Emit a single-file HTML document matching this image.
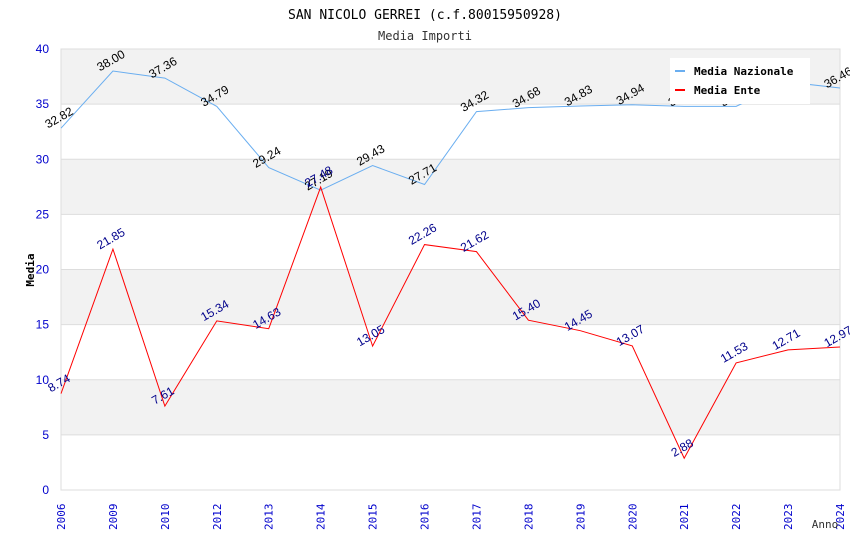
<!DOCTYPE html>
<html><head><meta charset="utf-8"><style>
body{margin:0;background:#fff;}
svg{display:block;font-family:"DejaVu Sans Mono","Liberation Mono",monospace;}
</style></head><body>
<svg id="chart" width="850" height="550">
<text x="425" y="19" text-anchor="middle" font-size="13" fill="#000">SAN NICOLO GERREI (c.f.80015950928)</text>
<text x="425" y="40" text-anchor="middle" font-size="12" fill="#333">Media Importi</text>
<g id="grid"></g><g id="axes"></g><g id="series"></g>
<text transform="translate(34,270) rotate(-90)" text-anchor="middle" font-size="11" font-weight="bold" fill="#000">Media</text>
<text x="825" y="528" text-anchor="middle" font-size="11" fill="#333">Anno</text>
<g>
<rect x="670" y="58" width="140" height="46" fill="#fff"/>
<g><rect x="675" y="70" width="10" height="2" fill="#6aaef0"/><text x="694" y="75" font-size="11" font-weight="bold">Media Nazionale</text></g>
<g><rect x="675" y="89" width="10" height="2" fill="#f00"/><text x="694" y="94" font-size="11" font-weight="bold">Media Ente</text></g>
</g>
</svg>
<script>
const categories=["2006","2009","2010","2012","2013","2014","2015","2016","2017","2018","2019","2020","2021","2022","2023","2024"];
const nazionale=[32.82,38.00,37.36,34.79,29.24,27.19,29.43,27.71,34.32,34.68,34.83,34.94,34.80,34.80,37.00,36.46];
const ente=[8.74,21.85,7.61,15.34,14.63,27.48,13.05,22.26,21.62,15.40,14.45,13.07,2.88,11.53,12.71,12.97];
const yTicks=[0,5,10,15,20,25,30,35,40];
const NS="http://www.w3.org/2000/svg";
const L=61,R=840,T=49,B=490;
const x=i=>L+i*(R-L)/(categories.length-1);
const y=v=>B-v*(B-T)/40;
function mk(tag,attrs,parent,txt){const e=document.createElementNS(NS,tag);for(const k in attrs)e.setAttribute(k,attrs[k]);if(txt!==undefined)e.textContent=txt;parent.appendChild(e);return e;}
const grid=document.getElementById('grid'),axes=document.getElementById('axes'),ser=document.getElementById('series');
for(let i=0;i<yTicks.length-1;i++){
 if(i%2===1){const r=mk('rect',{x:L,y:y(yTicks[i+1]),width:R-L,height:y(yTicks[i])-y(yTicks[i+1]),fill:'#f2f2f2'},grid);
 
 }
}
yTicks.forEach(t=>{
 const l=mk('line',{x1:L,x2:R,y1:y(t),y2:y(t),stroke:'#ddd'},grid);
 
 
 const tx=mk('text',{x:L-12,y:y(t)+4,'text-anchor':'end','font-size':12,fill:'#00c','font-family':'Liberation Sans, sans-serif'},axes,String(t));
 
 
});
mk('rect',{x:L,y:T,width:R-L,height:B-T,fill:'none',stroke:'#ddd'},axes);
categories.forEach((c,i)=>{
 const tx=mk('text',{transform:`translate(${x(i)+4},${B+40}) rotate(-90)`,'font-size':11,fill:'#00c'},axes,c);
 
 
});
function series(vals,color,lab,name){
 const p=mk('polyline',{points:vals.map((v,i)=>x(i)+','+y(v)).join(' '),fill:'none',stroke:color,'stroke-width':1},ser);
 
 
 vals.forEach((v,i)=>{
  const t=mk('text',{transform:`translate(${x(i)},${y(v)-7}) rotate(-30)`,'text-anchor':'middle','font-size':12,fill:lab,'font-family':'Liberation Sans, sans-serif'},ser,v.toFixed(2));
  
  
 });
}
series(nazionale,'#6aaef0','#000','nazionale');
series(ente,'#f00','#00008b','ente');
</script>
</body></html>
